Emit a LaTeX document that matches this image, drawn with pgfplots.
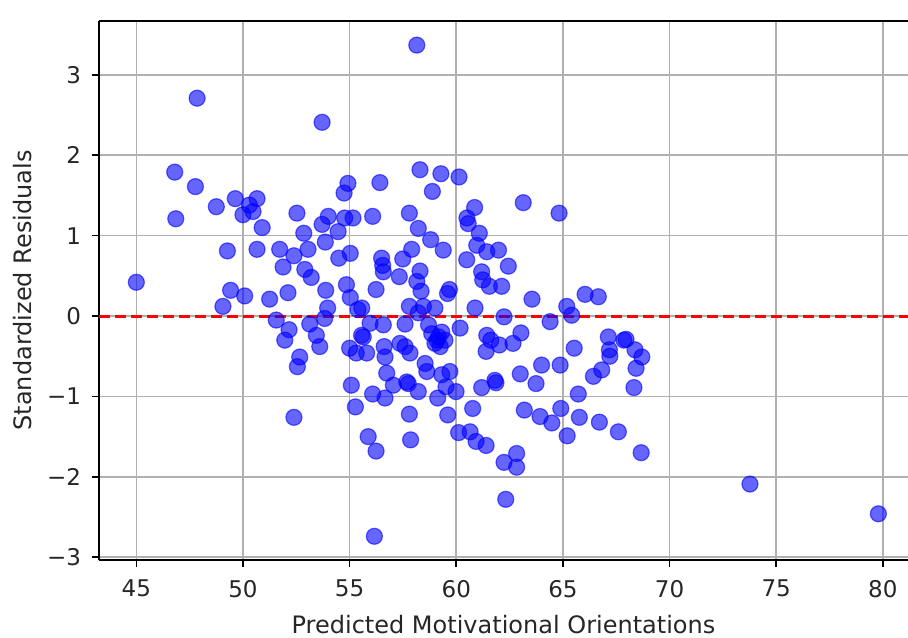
\documentclass[border=0pt]{standalone}
\usepackage{fontspec}
\setmainfont{DejaVu Sans}
\usepackage{pgfplots}
\pgfplotsset{compat=1.18}
\usetikzlibrary{calc}
\definecolor{gridgray}{HTML}{B0B0B0}

\pgfplotstableread{
x y
45.00 0.42
47.85 2.71
53.71 2.41
58.15 3.37
46.80 1.79
47.77 1.61
49.64 1.46
50.66 1.46
48.75 1.36
54.92 1.65
54.74 1.53
52.53 1.28
56.42 1.66
58.30 1.82
59.28 1.77
60.13 1.73
58.88 1.55
63.14 1.41
60.86 1.35
64.82 1.28
57.80 1.28
56.08 1.24
46.85 1.21
50.00 1.26
50.47 1.30
50.30 1.38
50.90 1.10
52.85 1.03
53.71 1.14
54.00 1.24
54.46 1.05
54.77 1.22
55.16 1.22
53.86 0.92
53.05 0.83
49.27 0.81
50.66 0.83
51.72 0.83
52.39 0.75
51.88 0.61
54.49 0.72
55.03 0.78
52.90 0.58
53.20 0.48
53.88 0.32
54.85 0.39
55.03 0.23
52.11 0.29
51.25 0.21
49.42 0.32
50.08 0.25
49.06 0.12
53.97 0.10
55.39 0.08
51.56 -0.05
53.13 -0.10
53.83 -0.03
53.44 -0.24
53.60 -0.38
52.16 -0.17
51.96 -0.30
52.66 -0.51
52.55 -0.63
55.00 -0.40
55.31 -0.46
55.56 -0.24
55.08 -0.86
52.39 -1.26
55.27 -1.13
55.87 -1.50
56.16 -2.74
62.32 -2.28
62.24 -1.82
62.83 -1.71
62.83 -1.88
61.40 -1.61
60.93 -1.56
60.65 -1.44
60.11 -1.45
60.77 -1.15
59.60 -1.23
59.13 -1.02
57.80 -1.22
57.86 -1.54
56.24 -1.68
56.08 -0.97
56.66 -1.02
57.05 -0.86
57.75 -0.84
58.22 -0.94
59.52 -0.88
59.99 -0.94
61.19 -0.89
61.86 -0.83
63.74 -0.84
63.19 -1.17
63.93 -1.25
64.48 -1.33
64.90 -1.15
65.20 -1.49
65.72 -0.97
65.77 -1.26
66.71 -1.32
67.60 -1.44
68.33 -0.89
68.67 -1.70
73.77 -2.09
79.79 -2.46
67.96 -0.29
68.38 -0.42
68.70 -0.51
68.43 -0.65
58.22 1.09
58.80 0.95
59.39 0.82
57.91 0.83
57.49 0.71
56.50 0.72
56.58 0.55
56.55 0.63
57.33 0.49
58.30 0.56
58.15 0.43
58.35 0.31
56.24 0.33
59.68 0.33
59.59 0.28
57.80 0.12
58.46 0.12
59.00 0.10
58.22 0.04
55.57 0.10
55.96 -0.09
56.58 -0.11
57.60 -0.10
58.70 -0.11
58.85 -0.22
59.17 -0.26
59.47 -0.30
59.00 -0.34
59.32 -0.20
60.18 -0.15
60.88 0.10
62.24 -0.01
64.40 -0.07
65.18 0.12
65.41 0.01
63.55 0.21
66.04 0.27
66.66 0.24
60.49 0.70
61.19 0.55
61.24 0.45
61.55 0.37
62.13 0.37
62.44 0.62
61.98 0.82
61.43 0.80
60.96 0.88
61.08 1.03
60.56 1.15
60.50 1.22
61.43 -0.24
61.62 -0.30
62.02 -0.36
61.40 -0.44
62.66 -0.34
63.03 -0.21
65.53 -0.40
64.87 -0.61
64.00 -0.61
63.00 -0.72
67.13 -0.26
67.18 -0.42
67.86 -0.30
66.82 -0.67
66.43 -0.75
61.81 -0.80
56.62 -0.38
56.66 -0.51
57.60 -0.38
57.83 -0.46
57.36 -0.34
55.64 -0.26
55.80 -0.46
58.54 -0.59
58.62 -0.69
59.32 -0.73
59.70 -0.69
56.74 -0.71
57.68 -0.82
67.20 -0.50
59.10 -0.30
59.25 -0.38
}\residuals

\begin{document}
\begin{tikzpicture}
\begin{axis}[
  name=ax,
  at={(0,0)}, anchor=south west,
  scale only axis,
  width=404.5pt, height=269.5pt,
  xmin=43.25, xmax=81.18,
  ymin=-3.035, ymax=3.67,
  axis lines*=left,
  axis line style={black, line width=0.8pt},
  xtick={45,50,...,80},
  ytick={-3,-2,-1,0,1,2,3},
  yticklabels={−3,−2,−1,0,1,2,3},
  tick align=outside,
  major tick length=3.5pt,
  tick style={black, line width=0.8pt},
  grid=major,
  grid style={gridgray, line width=0.8pt},
  tick label style={font=\fontsize{11.5}{13}\selectfont, text=black!85},
  xticklabel style={yshift=-3pt},
  yticklabel style={xshift=-2pt},
  /pgf/number format/assume math mode=true,
  xlabel={Predicted Motivational Orientations},
  ylabel={Standardized Residuals},
  label style={font=\fontsize{12}{14}\selectfont, text=black!85},
  xlabel style={at={(axis description cs:0.5,-0.1206)}, anchor=center},
  ylabel style={at={(axis description cs:-0.094,0.5)}, anchor=center},
  clip=true,
]
\addplot[only marks, mark=*, mark size=4pt,
  mark options={fill=blue, draw=blue, fill opacity=0.6, draw opacity=0.6, line width=0.6pt}]
  table[x=x, y=y] {\residuals};
\addplot[red, line width=1.5pt, dash pattern=on 5.6pt off 2.4pt] coordinates {(43.25,0) (81.18,0)};
\end{axis}
\draw[black, line width=0.8pt] (ax.north west) -- (ax.north east);
\pgfresetboundingbox
\path[use as bounding box] ($(ax.south west)+(-49.5pt,-38.5pt)$) rectangle ($(ax.north east)+(0,10.5pt)$);
\end{tikzpicture}
\end{document}
